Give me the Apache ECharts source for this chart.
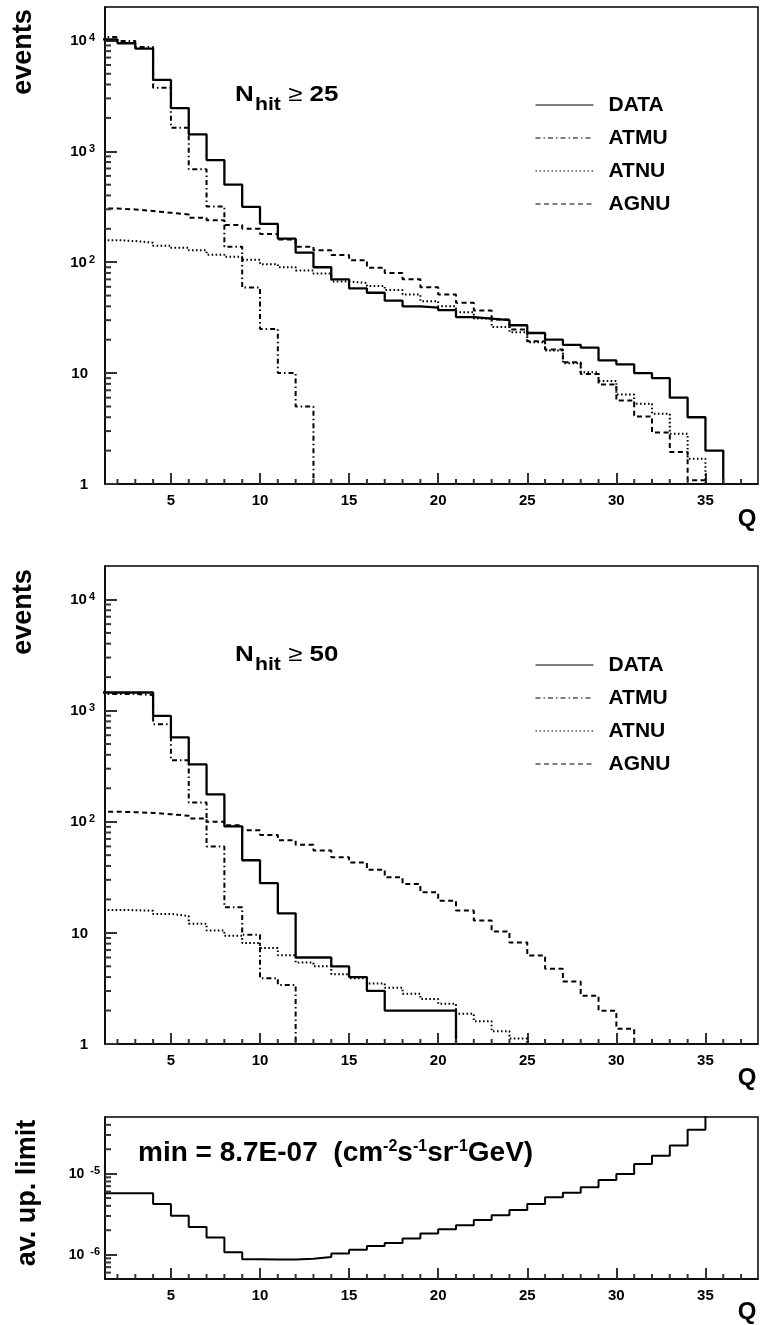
<!DOCTYPE html>
<html><head><meta charset="utf-8">
<script src="https://cdn.jsdelivr.net/npm/echarts@6/dist/echarts.min.js"></script>
<style>html,body{margin:0;padding:0;background:#fff}#c{width:760px;height:1325px}</style>
</head><body><div id="c"></div>
<script>
// ---------- data ----------
const qBins = [1,2,3,4,5,6,7,8,9,10,11,12,13,14,15,16,17,18,19,20,21,22,23,24,25,26,27,28,29,30,31,32,33,34,35,36,37];

// Nhit >= 25
const dataTop = [10230,9420,8440,4400,2455,1422,833,500,316,222,163,122,90,70,58,53,45,40,39,37,32,31,30,27,23,20,18,17,13,12,10,9,6,4,2,0,0];
const atmuTop = [10740,9880,8720,3750,1634,687,318,138,59,25,10,5,0,0,0,0,0,0,0,0,0,0,0,0,0,0,0,0,0,0,0,0,0,0,0,0,0];
const atnuTop = [158,155,150,141,135,128,117,112,105,96,90,84,79,67,65,61,56,51,44.5,40,35.4,31,26,23.4,19,16,12.3,10.2,8.5,6.4,5.3,4.3,2.84,1.69,0,0,0];
const agnuTop = [305,299,289,279,269,251,239,216,200,180,160,138,128,116,104,89,80,70,59.5,51,43,36.6,30.4,24.7,19.4,16.3,12.5,9.8,7.9,5.65,4.07,2.92,1.94,1.08,0,0,0];

// Nhit >= 50
const dataMid = [1455,1455,1455,896,573,328,176,91,45,28,15,6,6,5,4,3,2,2,2,2,0,0,0,0,0,0,0,0,0,0,0,0,0,0,0,0,0];
const atmuMid = [1410,1410,1380,755,358,149,60,17,9.6,3.9,3.4,0,0,0,0,0,0,0,0,0,0,0,0,0,0,0,0,0,0,0,0,0,0,0,0,0,0];
const atnuMid = [16.1,16.0,15.8,14.8,14.2,12.1,10.5,9.4,8.1,7.3,6.3,5.4,5.0,4.25,3.9,3.5,3.2,2.83,2.54,2.3,1.87,1.6,1.3,1.12,0,0,0,0,0,0,0,0,0,0,0,0,0];
const agnuMid = [123,122,120,117,113,107,100,93,84,76,68,62,55,48,43,37,31.6,27.5,23.2,19.5,15.9,12.9,10.3,8.2,6.25,4.75,3.65,2.72,1.99,1.37,0,0,0,0,0,0,0];

// average upper limit (bins 1..35, last one off scale)
const limitBins = [1,2,3,4,5,6,7,8,9,10,11,12,13,14,15,16,17,18,19,20,21,22,23,24,25,26,27,28,29,30,31,32,33,34,35];
const limitVals = [5.71e-6,5.71e-6,5.71e-6,4.21e-6,3.01e-6,2.20e-6,1.63e-6,1.07e-6,8.75e-7,8.70e-7,8.72e-7,8.92e-7,9.34e-7,1.03e-6,1.15e-6,1.28e-6,1.39e-6,1.58e-6,1.82e-6,2.06e-6,2.31e-6,2.67e-6,3.07e-6,3.55e-6,4.21e-6,5.09e-6,5.81e-6,6.77e-6,8.36e-6,9.91e-6,1.31e-5,1.66e-5,2.22e-5,3.48e-5,8.0e-5];

// ticks / labels
const xMajorTicks = [5,10,15,20,25,30,35];
const xMinorTicks = [2,3,4,6,7,8,9,11,12,13,14,16,17,18,19,21,22,23,24,26,27,28,29,31,32,33,34,36,37];
const yMajorEvents = [1,10,100,1000,10000];
const yMinorEvents = [2,3,4,5,6,7,8,9,20,30,40,50,60,70,80,90,200,300,400,500,600,700,800,900,2000,3000,4000,5000,6000,7000,8000,9000];
const yMajorLimit = [1e-6,1e-5];
const yMinorLimit = [6e-7,7e-7,8e-7,9e-7,2e-6,3e-6,4e-6,5e-6,6e-6,7e-6,8e-6,9e-6,2e-5,3e-5,4e-5];
const legendNames = ['DATA','ATMU','ATNU','AGNU'];

// ---------- layout / style ----------
const F = '"Liberation Sans", Arial, Helvetica, sans-serif';
const X_MIN = 1.3, X_MAX = 37.95;
const TICK_COLOR = '#333', TICK_W = 2;
const grids = [
  {left:105, top:7, width:653, height:477},
  {left:105, top:566, width:653, height:478},
  {left:105, top:1117, width:653, height:162}
];
const yRanges = [[1,20000],[1,20000],[5e-7,5e-5]];
const LS = {
  DATA:{type:'solid', width:2.3},
  ATMU:{type:[5,3,1.5,3], width:2},
  ATNU:{type:[1.6,2.4], width:2},
  AGNU:{type:[5,3.5], width:2}
};

function histPoints(bins, vals, floor){
  let last = vals.length - 1;
  while (last >= 0 && vals[last] === 0) last--;
  const pts = [];
  for (let i = 0; i <= last; i++) pts.push([bins[i], vals[i] > 0 ? vals[i] : floor]);
  if (last < vals.length - 1) pts.push([bins[last+1], floor]);
  else pts.push([bins[last] + 1, vals[last]]);
  return pts;
}

function logLabel(v){
  const e = Math.round(Math.log10(v));
  if (e === 0) return '{n|1}{p| }';
  if (e === 1) return '{n|10}{p| }';
  return '{n|10}{s|' + e + '}';
}

const xAxes = [], yAxes = [];
grids.forEach((g, gi) => {
  const isLim = gi === 2;
  xAxes.push({
    type:'value', gridIndex:gi, position:'bottom', min:X_MIN, max:X_MAX,
    axisLine:{show:true, lineStyle:{color:'#000', width:1.5}}, splitLine:{show:false},
    axisTick:{show:true, inside:true, length:11, customValues:xMajorTicks, lineStyle:{color:TICK_COLOR, width:TICK_W}},
    axisLabel:{show:true, customValues:xMajorTicks, margin:9, color:'#000', fontSize:15, fontWeight:'bold', fontFamily:F}
  });
  const yr = yRanges[gi];
  const maj = isLim ? yMajorLimit : yMajorEvents;
  yAxes.push({
    type:'log', logBase:10, gridIndex:gi, position:'left', min:yr[0], max:yr[1],
    axisLine:{show:true, lineStyle:{color:'#000', width:1.5}}, splitLine:{show:false},
    axisTick:{show:true, inside:true, length:12, customValues:maj, lineStyle:{color:TICK_COLOR, width:TICK_W}},
    axisLabel:{show:true, customValues:maj, margin:isLim ? 5 : 10, formatter:logLabel,
      rich:{
        n:{fontSize:isLim?14:15, fontWeight:'bold', fontFamily:F, color:'#000', verticalAlign:'bottom', lineHeight:16},
        s:{fontSize:11, fontWeight:'bold', fontFamily:F, color:'#000', verticalAlign:'top', lineHeight:11, padding:[0,0,9,isLim?6:2]},
        p:{width:7, fontSize:10}
      }}
  });
});

function histSeries(name, gi, vals){
  return {
    name:name, type:'line', step:'end', xAxisIndex:gi, yAxisIndex:gi,
    data:histPoints(qBins, vals, yRanges[gi][0]),
    symbol:'none', showSymbol:false, clip:true, silent:true,
    lineStyle:{color:'#000', width:LS[name].width, type:LS[name].type},
    itemStyle:{color:'#000'}
  };
}

const series = [
  histSeries('AGNU',0,agnuTop), histSeries('ATNU',0,atnuTop), histSeries('ATMU',0,atmuTop), histSeries('DATA',0,dataTop),
  histSeries('AGNU',1,agnuMid), histSeries('ATNU',1,atnuMid), histSeries('ATMU',1,atmuMid), histSeries('DATA',1,dataMid),
  {name:'limit', type:'line', step:'end', xAxisIndex:2, yAxisIndex:2,
    data:histPoints(limitBins, limitVals, yRanges[2][0]),
    symbol:'none', showSymbol:false, clip:true, silent:true, lineStyle:{color:'#000', width:2}}
];

function legendAt(top){
  return {show:true, orient:'vertical', left:530, top:top, itemWidth:58, itemHeight:14, itemGap:11,
    data:legendNames, selectedMode:false, itemStyle:{opacity:0}, lineStyle:{width:1},
    textStyle:{fontSize:21, fontWeight:'bold', fontFamily:F, color:'#000', padding:[0,0,0,10], lineHeight:22}};
}
function vText(x, y, txt){
  return {type:'text', x:x, y:y, rotation:Math.PI/2, silent:true,
    style:{text:txt, fontSize:27, fontWeight:'bold', fontFamily:F, fill:'#000', align:'center', verticalAlign:'middle'}};
}
function qText(y){
  return {type:'text', x:747, y:y, silent:true,
    style:{text:'Q', fontSize:24, fontWeight:'bold', fontFamily:F, fill:'#000', align:'center', verticalAlign:'middle'}};
}
function nhitText(y, num){
  return {type:'text', x:235, y:y, scaleX:1.18, silent:true,
    style:{text:'{a|N}{b|hit}{c| \u2265 }{a|' + num + '}', align:'left', verticalAlign:'top', fill:'#000',
      rich:{
        a:{fontSize:22, fontWeight:'bold', fontFamily:F, lineHeight:22, verticalAlign:'top', fill:'#000'},
        b:{fontSize:18, fontWeight:'bold', fontFamily:F, lineHeight:18, verticalAlign:'top', padding:[12,0,0,1], fill:'#000'},
        c:{fontSize:22, fontWeight:'normal', fontFamily:F, lineHeight:22, verticalAlign:'top', fill:'#000'}
      }}};
}
const textGraphics = [
  vText(24, 52, 'events'), vText(24, 612, 'events'), vText(28, 1193, 'av. up. limit'),
  qText(519), qText(1078), qText(1312),
  nhitText(84, '25'), nhitText(644, '50'),
  {type:'text', x:138, y:1139, silent:true,
   style:{text:'{a|min = 8.7E-07  (cm}{s|-2}{a|s}{s|-1}{a|sr}{s|-1}{a|GeV)}', align:'left', verticalAlign:'top', fill:'#000',
     rich:{
       a:{fontSize:28, fontWeight:'bold', fontFamily:F, lineHeight:28, verticalAlign:'bottom', fill:'#000'},
       s:{fontSize:16, fontWeight:'bold', fontFamily:F, lineHeight:16, verticalAlign:'top', padding:[0,0,15,0], fill:'#000'}
     }}}
];

const option = {
  animation:false, backgroundColor:'#fff',
  grid: grids.map(g => Object.assign({show:true, borderColor:'#000', borderWidth:1.5, backgroundColor:'transparent', containLabel:false, outerBoundsMode:'none'}, g)),
  xAxis:xAxes, yAxis:yAxes,
  legend:[legendAt(89), legendAt(649)],
  series:series,
  graphic:textGraphics
};

const chart = echarts.init(document.getElementById('c'), null, {renderer:'canvas'});
chart.setOption(option);

// minor inward ticks, positioned through the axes' own scales
const tickGraphics = [];
[0,1,2].forEach(gi => {
  const yr = yRanges[gi];
  const isLim = gi === 2;
  const add = (xv, yv, dx, dy) => {
    const p = chart.convertToPixel({gridIndex:gi}, [xv, yv]);
    if (!p || isNaN(p[0]) || isNaN(p[1])) return;
    tickGraphics.push({type:'line', silent:true, z:100,
      shape:{x1:p[0], y1:p[1], x2:p[0]+dx, y2:p[1]+dy},
      style:{stroke:TICK_COLOR, lineWidth:TICK_W}});
  };
  xMinorTicks.forEach(v => add(v, yr[0], 0, -5));
  (isLim ? yMinorLimit : yMinorEvents).forEach(v => add(X_MIN, v, 6, 0));
});
chart.setOption({graphic: textGraphics.concat(tickGraphics)});
</script></body></html>
